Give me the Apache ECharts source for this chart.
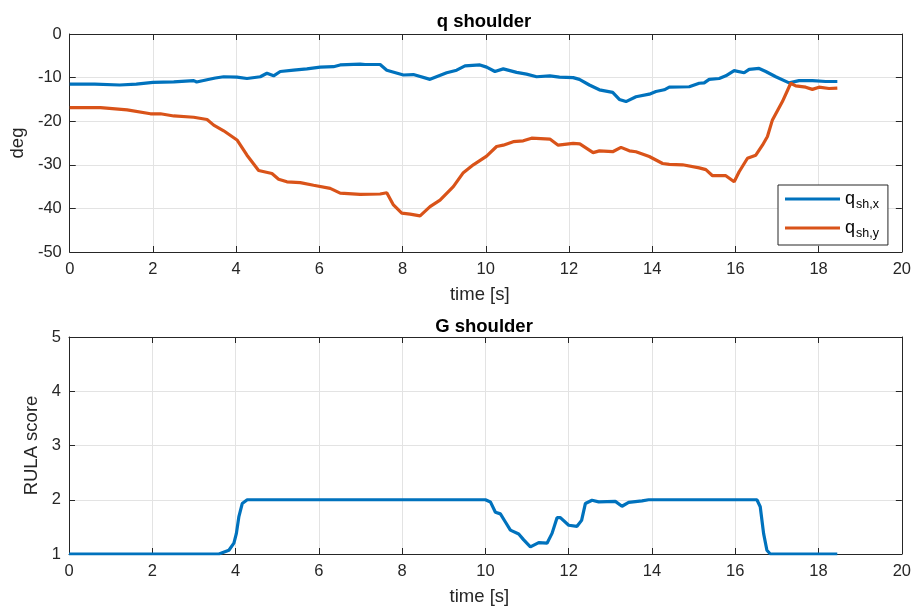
<!DOCTYPE html>
<html>
<head>
<meta charset="utf-8">
<script src="https://cdn.jsdelivr.net/npm/echarts@6/dist/echarts.min.js"></script>
<style>
  html, body { margin: 0; padding: 0; background: #fff; }
  #chart { width: 914px; height: 608px; }
</style>
</head>
<body>
<div id="chart"></div>
<script>
// Shoulder joint angles (deg) over time (s)
var tShX = [0, 0.6, 1.2, 1.6, 2.0, 2.5, 2.98, 3.05, 3.3, 3.5, 3.7, 4.02, 4.26, 4.58, 4.74, 4.9, 5.06, 5.38, 5.7, 6.02, 6.34, 6.5, 6.98, 7.1, 7.46, 7.62, 8.02, 8.26, 8.66, 9.06, 9.3, 9.5, 9.86, 10.02, 10.22, 10.42, 10.74, 10.98, 11.22, 11.54, 11.77, 12.1, 12.25, 12.49, 12.73, 13.05, 13.21, 13.37, 13.61, 13.93, 14.09, 14.29, 14.41, 14.89, 15.13, 15.25, 15.37, 15.61, 15.77, 15.97, 16.21, 16.33, 16.57, 16.73, 16.97, 17.29, 17.53, 17.85, 18.17, 18.45];
var qShX = [-11.5, -11.5, -11.7, -11.5, -11.1, -11.0, -10.7, -11.0, -10.5, -10.1, -9.8, -9.9, -10.2, -9.8, -9.0, -9.6, -8.6, -8.3, -8.0, -7.6, -7.5, -7.1, -6.9, -7.0, -7.0, -8.3, -9.4, -9.3, -10.4, -8.9, -8.3, -7.3, -7.1, -7.6, -8.6, -8.0, -8.8, -9.2, -9.8, -9.6, -9.9, -10.0, -10.4, -11.7, -12.8, -13.4, -15.0, -15.5, -14.4, -13.8, -13.2, -12.8, -12.2, -12.1, -11.3, -11.2, -10.4, -10.2, -9.6, -8.4, -8.9, -8.1, -7.9, -8.6, -9.8, -11.2, -10.7, -10.7, -10.9, -10.9];

var tShY = [0, 0.74, 1.38, 1.94, 2.18, 2.5, 2.98, 3.3, 3.46, 3.7, 4.02, 4.26, 4.54, 4.86, 5.02, 5.22, 5.54, 5.86, 6.26, 6.5, 6.98, 7.46, 7.62, 7.78, 7.98, 8.18, 8.42, 8.66, 8.9, 9.22, 9.46, 9.7, 10.02, 10.26, 10.42, 10.66, 10.9, 11.1, 11.54, 11.74, 12.1, 12.26, 12.58, 12.73, 13.05, 13.25, 13.45, 13.61, 13.93, 14.25, 14.41, 14.73, 15.13, 15.29, 15.45, 15.77, 15.97, 16.09, 16.29, 16.49, 16.65, 16.77, 16.89, 17.13, 17.33, 17.45, 17.69, 17.85, 18.01, 18.25, 18.45];
var qShY = [-16.9, -16.9, -17.4, -18.3, -18.3, -18.8, -19.1, -19.6, -20.9, -22.2, -24.3, -27.8, -31.3, -32.0, -33.3, -33.9, -34.1, -34.7, -35.4, -36.5, -36.8, -36.7, -36.4, -39.2, -41.1, -41.3, -41.7, -39.6, -38.1, -35.0, -31.8, -30.0, -28.0, -25.8, -25.5, -24.7, -24.5, -23.9, -24.1, -25.5, -25.1, -25.2, -27.2, -26.8, -27.0, -26.0, -26.8, -27.0, -28.1, -29.7, -29.9, -30.0, -30.7, -31.1, -32.5, -32.5, -33.9, -31.6, -28.5, -27.8, -25.5, -23.5, -19.7, -15.5, -11.3, -11.9, -12.2, -12.7, -12.2, -12.5, -12.4];

// RULA shoulder score over time (s)
var tG = [0, 3.6, 3.84, 3.96, 4.02, 4.08, 4.16, 4.28, 10.0, 10.12, 10.24, 10.36, 10.48, 10.6, 10.8, 10.92, 11.08, 11.28, 11.48, 11.6, 11.72, 11.8, 12.0, 12.2, 12.31, 12.4, 12.56, 12.72, 13.12, 13.28, 13.44, 13.76, 13.92, 16.52, 16.6, 16.68, 16.76, 16.84, 18.45];
var gSh = [1, 1, 1.07, 1.2, 1.38, 1.69, 1.93, 2.0, 2.0, 1.96, 1.77, 1.74, 1.59, 1.44, 1.37, 1.26, 1.13, 1.21, 1.2, 1.38, 1.67, 1.67, 1.53, 1.51, 1.62, 1.93, 1.99, 1.96, 1.97, 1.88, 1.95, 1.98, 2.0, 2.0, 1.87, 1.38, 1.07, 1.0, 1.0];

var timeTicks = [0, 20, 2];
var angleTicks = [-50, 0, 10];
var scoreTicks = [1, 5, 1];

function pairs(ts, vs) {
  return ts.map(function (t, i) { return [t, vs[i]]; });
}

var FONT = '"Liberation Sans", Arial, Helvetica, sans-serif';
var AXC = '#262626';
var GRIDC = '#e3e3e3';
var BLUE = '#0072BD';
var ORANGE = '#D95319';
var TICK_FS = 16.5;
var LABEL_FS = 18.5;

function mainX(gi) {
  return {
    type: 'value', gridIndex: gi, min: timeTicks[0], max: timeTicks[1], interval: timeTicks[2],
    name: 'time [s]', nameLocation: 'middle', nameGap: 33,
    nameTextStyle: { fontFamily: FONT, fontSize: LABEL_FS, color: AXC, padding: [0, 12, 0, 0] },
    axisLine: { show: true, onZero: false, lineStyle: { color: AXC, width: 1 } },
    axisTick: { show: true, inside: true, length: 6, lineStyle: { color: AXC } },
    axisLabel: { fontFamily: FONT, fontSize: TICK_FS, color: AXC, margin: 9 },
    splitLine: { show: true, lineStyle: { color: GRIDC, width: 1 } }
  };
}
function boxX(gi) {
  return {
    type: 'value', gridIndex: gi, position: 'top', min: timeTicks[0], max: timeTicks[1], interval: timeTicks[2],
    axisLine: { show: true, onZero: false, lineStyle: { color: AXC, width: 1 } },
    axisTick: { show: true, inside: true, length: 6, lineStyle: { color: AXC } },
    axisLabel: { show: false }, splitLine: { show: false }
  };
}
function mainY(gi, t, name, gap) {
  return {
    type: 'value', gridIndex: gi, min: t[0], max: t[1], interval: t[2],
    name: name, nameLocation: 'middle', nameGap: gap,
    nameTextStyle: { fontFamily: FONT, fontSize: LABEL_FS, color: AXC },
    axisLine: { show: true, onZero: false, lineStyle: { color: AXC, width: 1 } },
    axisTick: { show: true, inside: true, length: 6, lineStyle: { color: AXC } },
    axisLabel: { fontFamily: FONT, fontSize: TICK_FS, color: AXC, margin: 8 },
    splitLine: { show: true, lineStyle: { color: GRIDC, width: 1 } }
  };
}
function boxY(gi, t) {
  return {
    type: 'value', gridIndex: gi, position: 'right', min: t[0], max: t[1], interval: t[2],
    axisLine: { show: true, onZero: false, lineStyle: { color: AXC, width: 1 } },
    axisTick: { show: true, inside: true, length: 6, lineStyle: { color: AXC } },
    axisLabel: { show: false }, splitLine: { show: false }
  };
}

var chart = echarts.init(document.getElementById('chart'), null, { renderer: 'canvas' });
chart.setOption({
  animation: false,
  backgroundColor: '#ffffff',
  title: [
    { text: 'q shoulder', left: 479, top: 7, textAlign: 'center',
      textStyle: { fontFamily: FONT, fontSize: LABEL_FS, fontWeight: 'bold', color: '#000' } },
    { text: 'G shoulder', left: 479, top: 312, textAlign: 'center',
      textStyle: { fontFamily: FONT, fontSize: LABEL_FS, fontWeight: 'bold', color: '#000' } }
  ],
  grid: [
    { left: 69, right: 11, top: 34, height: 218 },
    { left: 69, right: 11, top: 337, height: 217 }
  ],
  xAxis: [mainX(0), boxX(0), mainX(1), boxX(1)],
  yAxis: [mainY(0, angleTicks, 'deg', 41), boxY(0, angleTicks), mainY(1, scoreTicks, 'RULA score', 26), boxY(1, scoreTicks)],
  legend: {
    left: 778, top: 185, orient: 'vertical',
    data: ['q_sh,x', 'q_sh,y'],
    icon: 'rect', itemWidth: 55, itemHeight: 3, itemGap: 8,
    padding: [5, 9, 5, 7],
    borderColor: AXC, borderWidth: 1, backgroundColor: '#fff',
    formatter: function (name) {
      return '{q|q}{s|' + name.split('_')[1] + '}';
    },
    textStyle: {
      rich: {
        q: { fontFamily: FONT, fontSize: 18, color: '#000', lineHeight: 20 },
        s: { fontFamily: FONT, fontSize: 12.5, color: '#000', padding: [11, 0, 0, 1] }
      }
    }
  },
  series: [
    { name: 'q_sh,x', type: 'line', xAxisIndex: 0, yAxisIndex: 0, data: pairs(tShX, qShX),
      showSymbol: false, lineStyle: { color: BLUE, width: 3.2 }, itemStyle: { color: BLUE } },
    { name: 'q_sh,y', type: 'line', xAxisIndex: 0, yAxisIndex: 0, data: pairs(tShY, qShY),
      showSymbol: false, lineStyle: { color: ORANGE, width: 3.2 }, itemStyle: { color: ORANGE } },
    { name: 'G', type: 'line', xAxisIndex: 2, yAxisIndex: 2, data: pairs(tG, gSh),
      showSymbol: false, lineStyle: { color: BLUE, width: 3.2 }, itemStyle: { color: BLUE } }
  ]
});
</script>
</body>
</html>
